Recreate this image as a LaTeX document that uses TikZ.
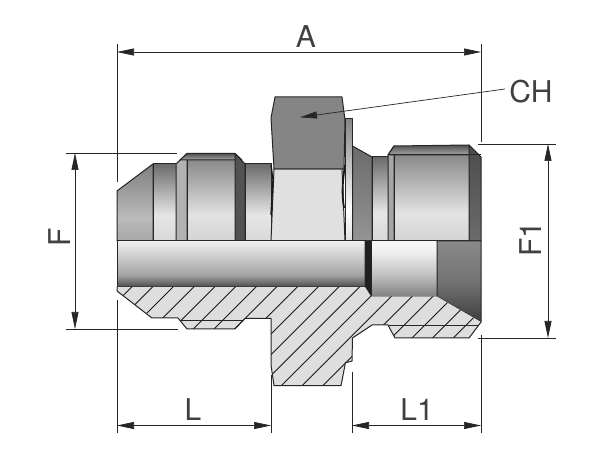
\documentclass[tikz,border=0pt]{standalone}
\usepackage{fontspec}
\setmainfont{TeX Gyre Heros}
\usetikzlibrary{arrows.meta}
% --- Metal shadings: stops 25bp (bottom) to 75bp (top) fit the path ---
\pgfdeclareverticalshading{metalA}{100bp}{color(0bp)=(black!34); color(25bp)=(black!34); color(40bp)=(black!27); color(75bp)=(black!50); color(100bp)=(black!50)}
\pgfdeclareverticalshading{metalB}{100bp}{color(0bp)=(black!15); color(25bp)=(black!15); color(42bp)=(black!10); color(75bp)=(black!58); color(100bp)=(black!58)}
\pgfdeclareverticalshading{metalC}{100bp}{color(0bp)=(black!17); color(25bp)=(black!17); color(41bp)=(black!11); color(75bp)=(black!46); color(100bp)=(black!46)}
\pgfdeclareverticalshading{capshade}{100bp}{color(0bp)=(black!35); color(25bp)=(black!35); color(75bp)=(black!68); color(100bp)=(black!68)}
\pgfdeclareverticalshading{washer}{100bp}{color(0bp)=(black!12); color(25bp)=(black!12); color(38bp)=(white); color(75bp)=(black!48); color(100bp)=(black!48)}
\pgfdeclareverticalshading{cone}{100bp}{color(0bp)=(black!42); color(25bp)=(black!42); color(75bp)=(black!58); color(100bp)=(black!58)}
\pgfdeclareverticalshading{bore}{100bp}{color(0bp)=(black!70); color(25bp)=(black!70); color(38bp)=(black!36); color(60bp)=(black!18); color(75bp)=(black!6); color(100bp)=(black!6)}
\pgfdeclareverticalshading{seat}{100bp}{color(0bp)=(black!50); color(25bp)=(black!50); color(45bp)=(black!24); color(65bp)=(black!6); color(75bp)=(black!3); color(100bp)=(black!3)}
\pgfdeclareverticalshading{mouth}{100bp}{color(0bp)=(black!76); color(25bp)=(black!76); color(50bp)=(black!55); color(75bp)=(black!46); color(100bp)=(black!46)}
\pgfdeclareverticalshading{darkband}{100bp}{color(0bp)=(black!58); color(25bp)=(black!58); color(75bp)=(black!70); color(100bp)=(black!70)}

\begin{document}
\begin{tikzpicture}[
  x=1pt, y=-1pt,
  >=Stealth,
  edge/.style={draw=black!85, line width=1pt, line join=round},
  part/.style={edge, shading=#1},
  flat/.style={edge, fill=#1},
  dim/.style={draw=black!85, line width=0.7pt},
  dimarrow/.style={dim, {Stealth[length=17pt,width=7pt,inset=0pt]}-{Stealth[length=17pt,width=7pt,inset=0pt]}},
  leader/.style={dim, -{Stealth[length=17pt,width=7pt,inset=0pt]}},
  label/.style={font=\fontsize{30}{30}\selectfont, text=black!75, inner sep=0pt},
]
\useasboundingbox (0,0) rectangle (600,462);
\fill[white] (0,0) rectangle (600,462);

% --- Geometry ---
\def\ybase{241}  % bottom of outer view
\def\ybore{287}  % bottom of bore

% --- Male end (left) ---
\path[part=metalA] (117,\ybase) -- (117,191) -- (153,164) -- (153,\ybase) -- cycle;
\path[part=metalB] (153,164) rectangle (176,\ybase);
\path[flat=black!30] (176,\ybase) -- (176,164) -- (187,153.5) -- (187,\ybase) -- cycle;
\path[part=metalC] (187,160) rectangle (235,\ybase);
\path[part=capshade] (180,160) -- (187,153.5) -- (235,153.5) -- (242,160) -- cycle;
\path[flat=black!68] (235,160) -- (235,153.5) -- (245,164) -- (245,\ybase) -- (235,\ybase) -- cycle;
\path[part=metalB] (245,164) rectangle (271,\ybase);

% --- Hex nut ---
\path[flat=black!12] (274,169) -- (342,169) -- (345,\ybase) -- (271,\ybase) -- cycle;
\path[flat=black!48] (275,97) -- (342,97) -- (345,120) -- (344,169) -- (274,169) -- (271,118) -- cycle;
\draw[black!90, line width=1.8pt] (345,165) .. controls (342,185) and (342,195) .. (344,208);
\draw[black!90, line width=1.4pt] (271,165) -- (273,180) -- (271,215);

% --- Male end (right) ---
\path[part=washer] (345,119) rectangle (352.5,\ybase);
\path[part=cone] (352.5,146) -- (372,157) -- (372,\ybase) -- (352.5,\ybase) -- cycle;
\path[part=metalB] (372,157) rectangle (388,\ybase);
\path[flat=black!35] (388,\ybase) -- (388,155) -- (394,146) -- (394,\ybase) -- cycle;
\path[part=metalC] (394,155) rectangle (469,\ybase);
\path[part=capshade] (388,155) -- (394,146) -- (469,145) -- (479,155) -- cycle;
\path[part=darkband] (469,155) -- (469,145) -- (481,157) -- (481,\ybase) -- (469,\ybase) -- cycle;
\draw[edge] (388,155) -- (481,155);

% --- Bore ---
\path[part=bore] (117,\ybase) rectangle (365,\ybore);
\path[flat=black!88] (365,\ybase) -- (371,\ybase) -- (371,296.5) -- (365,\ybore) -- cycle;
\path[part=seat] (371,\ybase) rectangle (437,296.5);
\path[part=mouth] (437,\ybase) -- (481,\ybase) -- (481,322) -- (437,296.5) -- cycle;

% --- Section, hatched ---
\path[fill=black!13]
  (117,\ybore) -- (117,291) -- (152,318) -- (178,318) -- (187,329) -- (235,329) -- (245,318.5)
  -- (271,318.5) -- (271,365) -- (274,385.7) -- (341,385.7) -- (345,365) -- (345,363) -- (352,361)
  -- (352.5,338) -- (372,325) -- (388,325) -- (395,338) -- (469,338) -- (481,322) -- (437,296.5)
  -- (371,296.5) -- (365,\ybore) -- cycle;
\begin{scope}
  \clip
    (117,\ybore) -- (117,291) -- (152,318) -- (178,318) -- (187,329) -- (235,329) -- (245,318.5)
    -- (271,318.5) -- (271,365) -- (274,385.7) -- (341,385.7) -- (345,365) -- (345,363) -- (352,361)
    -- (352.5,338) -- (372,325) -- (388,325) -- (395,338) -- (469,338) -- (481,322) -- (437,296.5)
    -- (371,296.5) -- (365,\ybore) -- cycle;
  \foreach \k in {0,...,22} {
    \draw[black!90, line width=0.9pt] (418.7+20.7*\k+20,-20) -- (418.7+20.7*\k-400,400);
  }
\end{scope}
\draw[edge]
  (117,\ybore) -- (117,291) -- (152,318) -- (178,318) -- (187,329) -- (235,329) -- (245,318.5)
  -- (271,318.5) -- (271,365) -- (274,385.7) -- (341,385.7) -- (345,365) -- (345,363) -- (352,361)
  -- (352.5,338) -- (372,325) -- (388,325) -- (395,338) -- (469,338) -- (481,322);
\draw[edge] (180,321) -- (243,321);
\draw[edge] (389,326) -- (479,326);

% --- Extension lines ---
\draw[dim] (117,44) -- (117,182);
\draw[dim] (117,300) -- (117,433);
\draw[dim] (481,44) -- (481,142);
\draw[dim] (481,335) -- (481,433);
\draw[dim] (271,375) -- (271,433);
\draw[dim] (352,372) -- (352,433);
\draw[dim] (66,153) -- (177,153);
\draw[dim] (66,329) -- (178,329);
\draw[dim] (478,144) -- (556,144);
\draw[dim] (478,338) -- (556,338);

% --- Dimensions ---
\coordinate (aleft) at (117,52);   \coordinate (aright) at (481,52);
\coordinate (ftop) at (75,153);    \coordinate (fbot) at (75,329);
\coordinate (fonetop) at (548,144); \coordinate (fonebot) at (548,338);
\coordinate (lleft) at (117,425.5); \coordinate (lright) at (271,425.5);
\coordinate (loneleft) at (352,425.5); \coordinate (loneright) at (481,425.5);
\coordinate (chstart) at (505,89); \coordinate (chtip) at (300,117.3);
\draw[dimarrow] (aleft) -- (aright);
\draw[dimarrow] (ftop) -- (fbot);
\draw[dimarrow] (fonetop) -- (fonebot);
\draw[dimarrow] (lleft) -- (lright);
\draw[dimarrow] (loneleft) -- (loneright);
\draw[leader] (chstart) -- (chtip);

% --- Labels ---
\node[label] (dima) at (306,37) {A};
\node[label] (dimch) at (531,91.5) {CH};
\node[label, rotate=90] (dimf) at (60,237) {F};
\node[label, rotate=90] (dimfone) at (531,239) {F1};
\node[label] (diml) at (193,410) {L};
\node[label] (dimlone) at (417,410) {L1};
\end{tikzpicture}
\end{document}
